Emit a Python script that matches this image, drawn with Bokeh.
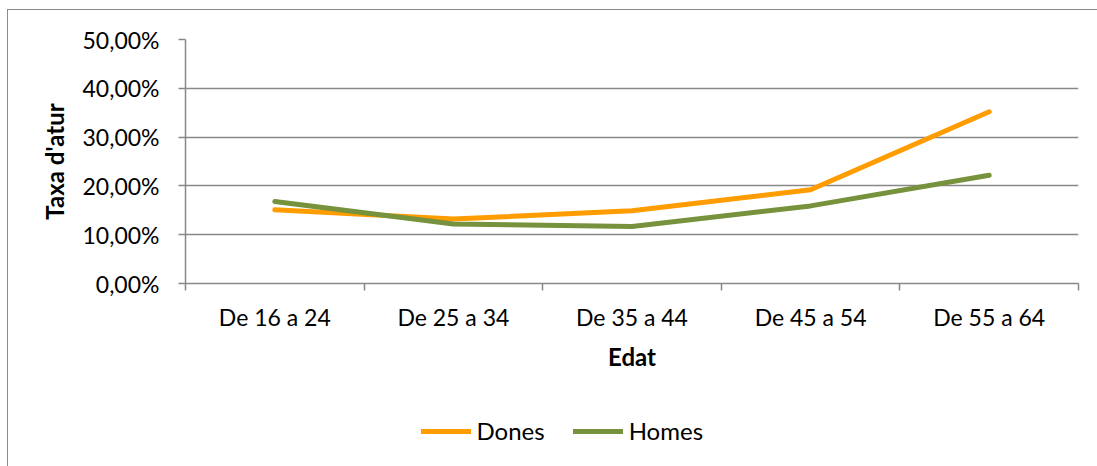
from bokeh.plotting import figure
from bokeh.layouts import column
from bokeh.models import (Range1d, FixedTicker, CustomJSTickFormatter, Legend, LegendItem,
                          ColumnDataSource)
from bokeh.embed import file_html
from bokeh.resources import INLINE

categories = ["De 16 a 24", "De 25 a 34", "De 35 a 44", "De 45 a 54", "De 55 a 64"]
dones = [0.151, 0.132, 0.149, 0.192, 0.352]
homes = [0.168, 0.122, 0.117, 0.159, 0.222]
y_ticks = [0.0, 0.1, 0.2, 0.3, 0.4, 0.5]
series_names = ["Dones", "Homes"]
series_cols = ["dones", "homes"]
series_colors = ["#FF9C00", "#76923C"]

FONT = "Lato"
GRID = "#888888"
TICK_FS = "23px"
LABEL_FS = "24px"

xs = [i + 0.5 for i in range(len(categories))]
src = ColumnDataSource(dict(x=xs, dones=dones, homes=homes))

p = figure(width=1089, height=373, output_backend="svg", toolbar_location=None,
           x_range=Range1d(0, len(categories)), y_range=Range1d(0, 0.5),
           min_border_left=177, min_border_right=19, min_border_top=29, min_border_bottom=100)
p.outline_line_color = None
p.background_fill_color = "white"
p.border_fill_color = "white"

for col, color in zip(series_cols, series_colors):
    p.line("x", col, source=src, line_color=color, line_width=5, line_cap="round", line_join="round")

# x axis
p.xaxis.ticker = FixedTicker(ticks=xs, minor_ticks=list(range(len(categories) + 1)))
p.xaxis.major_label_overrides = {x: c for x, c in zip(xs, categories)}
p.xaxis.major_tick_line_color = None
p.xaxis.major_tick_out = 6
p.xaxis.major_tick_in = 0
p.xaxis.minor_tick_line_color = GRID
p.xaxis.minor_tick_out = 7
p.xaxis.minor_tick_in = 0
p.xaxis.minor_tick_line_width = 1.5
p.xaxis.axis_line_color = GRID
p.xaxis.axis_line_width = 1.5
p.xaxis.major_label_standoff = 12
p.xaxis.major_label_text_font = FONT
p.xaxis.major_label_text_font_size = TICK_FS
p.xaxis.major_label_text_color = "black"
p.xaxis.axis_label = "Edat"
p.xaxis.axis_label_text_font = FONT
p.xaxis.axis_label_text_font_size = LABEL_FS
p.xaxis.axis_label_text_font_style = "bold"
p.xaxis.axis_label_text_color = "black"
p.xaxis.axis_label_standoff = 8
p.xgrid.grid_line_color = None

# y axis
p.yaxis.ticker = FixedTicker(ticks=y_ticks, minor_ticks=[])
p.yaxis.formatter = CustomJSTickFormatter(code="return (tick*100).toFixed(2).replace('.', ',') + '%';")
p.yaxis.major_tick_line_color = GRID
p.yaxis.major_tick_line_width = 1.5
p.yaxis.major_tick_out = 7
p.yaxis.major_tick_in = 0
p.yaxis.minor_tick_line_color = None
p.yaxis.axis_line_color = GRID
p.yaxis.axis_line_width = 1.5
p.yaxis.major_label_standoff = 19
p.yaxis.major_label_text_font = FONT
p.yaxis.major_label_text_font_size = TICK_FS
p.yaxis.major_label_text_color = "black"
p.yaxis.axis_label = "Taxa d'atur"
p.yaxis.axis_label_text_font = FONT
p.yaxis.axis_label_text_font_size = LABEL_FS
p.yaxis.axis_label_text_font_style = "bold"
p.yaxis.axis_label_text_color = "black"
p.yaxis.axis_label_standoff = 10
p.ygrid.ticker = FixedTicker(ticks=y_ticks)
p.ygrid.grid_line_color = GRID
p.ygrid.grid_line_width = 1.5

# legend strip (its frame is aligned with the chart frame by the column layout)
p2 = figure(width=1089, height=83, output_backend="svg", toolbar_location=None,
            x_axis_location=None, y_axis_location=None,
            x_range=Range1d(0, len(categories)), y_range=Range1d(10, 11),
            min_border=0, min_border_left=0, min_border_right=0, min_border_top=0, min_border_bottom=0)
p2.outline_line_color = None
p2.xgrid.grid_line_color = None
p2.ygrid.grid_line_color = None
p2.border_fill_color = "white"
p2.background_fill_color = "white"
leg_renderers = [p2.line("x", col, source=src, line_color=c, line_width=5, line_cap="round")
                 for col, c in zip(series_cols, series_colors)]
legend = Legend(items=[LegendItem(label=n, renderers=[r]) for n, r in zip(series_names, leg_renderers)],
                orientation="horizontal", location=(235.5, 21),
                label_text_font=FONT, label_text_font_size=LABEL_FS, label_text_color="black",
                glyph_width=50, glyph_height=24, label_standoff=6, spacing=28,
                padding=0, margin=0, border_line_color=None, background_fill_alpha=0)
p2.add_layout(legend, "center")

layout = column(p, p2, spacing=0)
layout.styles = {"border-left": "1px solid #8a8a8a", "border-top": "1px solid #8a8a8a",
                 "margin-left": "7px", "margin-top": "9px"}

open("out.html", "w").write(file_html(layout, INLINE))
